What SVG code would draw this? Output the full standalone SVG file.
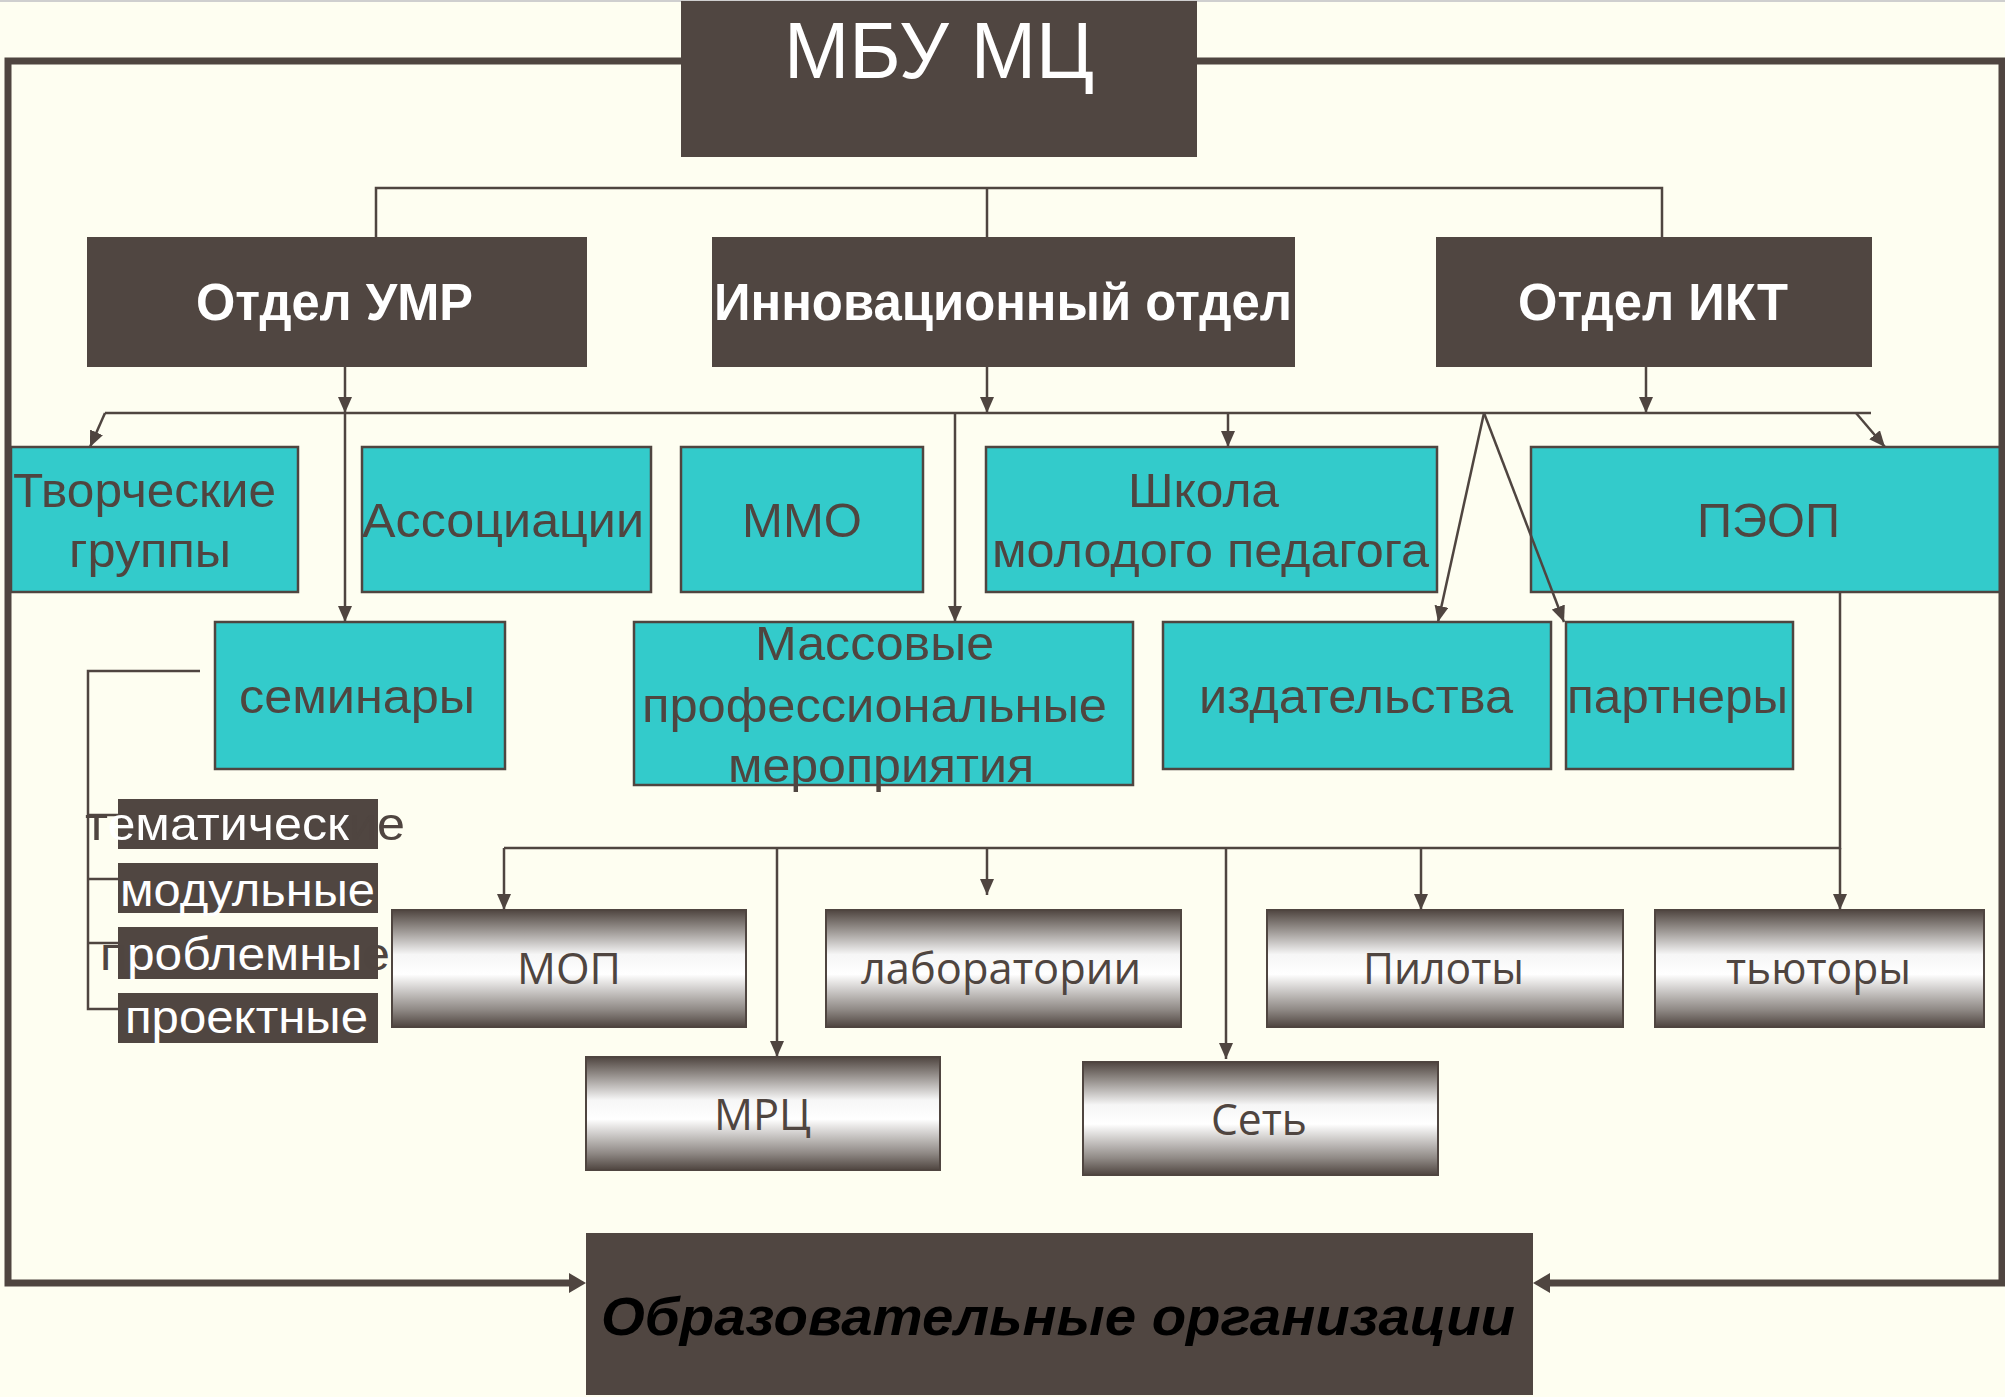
<svg xmlns="http://www.w3.org/2000/svg" width="2005" height="1397" viewBox="0 0 2005 1397">
<defs>
<style>
.dark{fill:#504641;}
.teal{fill:#33CBCB;stroke:#4F4540;stroke-width:2.5;}
.grad{fill:url(#g);stroke:#4F4540;stroke-width:2;}
.hdr{font-family:"Liberation Sans",Arial,sans-serif;font-weight:bold;font-size:51px;fill:#FFFFFF;}
.tt{font-family:"Liberation Sans",Arial,sans-serif;font-size:48px;fill:#4F4540;}
.gt{font-family:"Open Sans","Liberation Sans",sans-serif;font-size:44px;fill:#4F4540;}
.lb{font-family:"Liberation Sans",Arial,sans-serif;font-size:46px;}
.c{fill:none;stroke:#4F4540;stroke-width:2.5;}
.thick{fill:none;stroke:#4F4540;stroke-width:7;}
</style>
<linearGradient id="g" x1="0" y1="0" x2="0" y2="1">
<stop offset="0" stop-color="#4F4540"/>
<stop offset="0.15" stop-color="#908a86"/>
<stop offset="0.38" stop-color="#f6f6f6"/>
<stop offset="0.55" stop-color="#ffffff"/>
<stop offset="0.85" stop-color="#908a86"/>
<stop offset="1" stop-color="#4F4540"/>
</linearGradient>
<marker id="arr" viewBox="0 0 16 14" refX="16" refY="7" markerWidth="16" markerHeight="14" markerUnits="userSpaceOnUse" orient="auto">
<path d="M0,0 L16,7 L0,14 z" fill="#4F4540"/>
</marker>
</defs>
<rect x="0" y="0" width="2005" height="1397" fill="#FEFEF1"/>
<rect x="0" y="0" width="2005" height="2" fill="#cfcfcf"/>

<g id="mbu"><rect class="dark" x="681" y="1" width="516" height="156"/>
<text x="939" y="78" text-anchor="middle" font-family="Liberation Sans, Arial, sans-serif" font-size="80" fill="#FFFFFF" textLength="310" lengthAdjust="spacingAndGlyphs">МБУ МЦ</text></g>

<g id="umr"><rect class="dark" x="87" y="237" width="500" height="130"/>
<text class="hdr" x="196" y="320" textLength="277" lengthAdjust="spacingAndGlyphs">Отдел УМР</text></g>
<g id="innov"><rect class="dark" x="712" y="237" width="583" height="130"/>
<text class="hdr" x="714" y="320" textLength="578" lengthAdjust="spacingAndGlyphs">Инновационный отдел</text></g>
<g id="ikt"><rect class="dark" x="1436" y="237" width="436" height="130"/>
<text class="hdr" x="1518" y="320" textLength="270" lengthAdjust="spacingAndGlyphs">Отдел ИКТ</text></g>

<g id="tvorch"><rect class="teal" x="11" y="447" width="287" height="145"/>
<text class="tt" x="13" y="507" textLength="263" lengthAdjust="spacingAndGlyphs">Творческие</text>
<text class="tt" x="69" y="567" textLength="162" lengthAdjust="spacingAndGlyphs">группы</text></g>
<g id="assoc"><rect class="teal" x="362" y="447" width="289" height="145"/>
<text class="tt" x="362" y="537" textLength="282" lengthAdjust="spacingAndGlyphs">Ассоциации</text></g>
<g id="mmo"><rect class="teal" x="681" y="447" width="242" height="145"/>
<text class="tt" x="742" y="537" textLength="120" lengthAdjust="spacingAndGlyphs">ММО</text></g>
<g id="shkola"><rect class="teal" x="986" y="447" width="451" height="145"/>
<text class="tt" x="1128" y="507" textLength="151" lengthAdjust="spacingAndGlyphs">Школа</text>
<text class="tt" x="992" y="567" textLength="437" lengthAdjust="spacingAndGlyphs">молодого педагога</text></g>
<g id="peop"><rect class="teal" x="1531" y="447" width="476" height="145"/>
<text class="tt" x="1697" y="537" textLength="143" lengthAdjust="spacingAndGlyphs">ПЭОП</text></g>

<g id="seminary"><rect class="teal" x="215" y="622" width="290" height="147"/>
<text class="tt" x="239" y="713" textLength="236" lengthAdjust="spacingAndGlyphs">семинары</text></g>
<g id="massovye"><rect class="teal" x="634" y="622" width="499" height="163"/>
<text class="tt" x="755" y="660" textLength="239" lengthAdjust="spacingAndGlyphs">Массовые</text>
<text class="tt" x="642" y="722" textLength="465" lengthAdjust="spacingAndGlyphs">профессиональные</text>
<text class="tt" x="728" y="782" textLength="306" lengthAdjust="spacingAndGlyphs">мероприятия</text></g>
<g id="izdat"><rect class="teal" x="1163" y="622" width="388" height="147"/>
<text class="tt" x="1199" y="713" textLength="314" lengthAdjust="spacingAndGlyphs">издательства</text></g>
<g id="partnery"><rect class="teal" x="1566" y="622" width="227" height="147"/>
<text class="tt" x="1567" y="713" textLength="221" lengthAdjust="spacingAndGlyphs">партнеры</text></g>

<g id="connectors">
<path class="thick" d="M681,61 H8 V1283 H572"/>
<polygon points="569,1273 586,1283 569,1293" fill="#4F4540"/>
<path class="thick" d="M1197,61 H2002 V1283 H1548"/>
<polygon points="1550,1273 1533,1283 1550,1293" fill="#4F4540"/>
<path class="c" d="M376,237 V188 H1662 V237"/>
<path class="c" d="M987,188 V237"/>
<path class="c" d="M345,367 V413" marker-end="url(#arr)"/>
<path class="c" d="M345,413 V622" marker-end="url(#arr)"/>
<path class="c" d="M987,367 V413" marker-end="url(#arr)"/>
<path class="c" d="M1646,367 V413" marker-end="url(#arr)"/>
<path class="c" d="M105,413 H1871"/>
<path class="c" d="M105,413 L90,447" marker-end="url(#arr)"/>
<path class="c" d="M955,413 V622" marker-end="url(#arr)"/>
<path class="c" d="M1228,413 V447" marker-end="url(#arr)"/>
<path class="c" d="M1484,413 L1438,622" marker-end="url(#arr)"/>
<path class="c" d="M1484,413 L1564,622" marker-end="url(#arr)"/>
<path class="c" d="M1856,413 L1885,447" marker-end="url(#arr)"/>
<path class="c" d="M1840,592 V848 H504"/>
<path class="c" d="M1840,848 V910" marker-end="url(#arr)"/>
<path class="c" d="M504,848 V910" marker-end="url(#arr)"/>
<path class="c" d="M777,848 V1057" marker-end="url(#arr)"/>
<path class="c" d="M987,848 V895" marker-end="url(#arr)"/>
<path class="c" d="M1226,848 V1059" marker-end="url(#arr)"/>
<path class="c" d="M1421,848 V910" marker-end="url(#arr)"/>
<path class="c" d="M200,671 H88 V1009 H118 M88,815 H118 M88,879 H118 M88,943 H118"/>
</g>

<g id="labels">
<rect class="dark" x="118" y="799" width="260" height="50"/>
<rect class="dark" x="118" y="863" width="260" height="50"/>
<rect class="dark" x="118" y="927" width="260" height="52"/>
<rect class="dark" x="118" y="993" width="260" height="50"/>
<text class="lb" x="85" y="840" textLength="320" lengthAdjust="spacingAndGlyphs"><tspan fill="#4F4540">т</tspan><tspan fill="#FFFFFF">ематическ</tspan><tspan fill="#4F4540">ие</tspan></text>
<text class="lb" x="120" y="906" textLength="255" lengthAdjust="spacingAndGlyphs" fill="#FFFFFF">модульные</text>
<text class="lb" x="100" y="970" textLength="290" lengthAdjust="spacingAndGlyphs"><tspan fill="#4F4540">п</tspan><tspan fill="#FFFFFF">роблемны</tspan><tspan fill="#4F4540">е</tspan></text>
<text class="lb" x="125" y="1033" textLength="243" lengthAdjust="spacingAndGlyphs" fill="#FFFFFF">проектные</text>
</g>

<g id="mop"><rect class="grad" x="392" y="910" width="354" height="117"/>
<text class="gt" x="517" y="984" textLength="104" lengthAdjust="spacingAndGlyphs">МОП</text></g>
<g id="lab"><rect class="grad" x="826" y="910" width="355" height="117"/>
<text class="gt" x="861" y="984" textLength="280" lengthAdjust="spacingAndGlyphs">лаборатории</text></g>
<g id="piloty"><rect class="grad" x="1267" y="910" width="356" height="117"/>
<text class="gt" x="1363" y="984" textLength="161" lengthAdjust="spacingAndGlyphs">Пилоты</text></g>
<g id="tutors"><rect class="grad" x="1655" y="910" width="329" height="117"/>
<text class="gt" x="1726" y="984" textLength="185" lengthAdjust="spacingAndGlyphs">тьюторы</text></g>
<g id="mrc"><rect class="grad" x="586" y="1057" width="354" height="113"/>
<text class="gt" x="714" y="1130" textLength="97" lengthAdjust="spacingAndGlyphs">МРЦ</text></g>
<g id="set"><rect class="grad" x="1083" y="1062" width="355" height="113"/>
<text class="gt" x="1211" y="1135" textLength="96" lengthAdjust="spacingAndGlyphs">Сеть</text></g>

<g id="obr"><rect class="dark" x="586" y="1233" width="947" height="162"/>
<text x="601" y="1335" font-family="Liberation Sans, Arial, sans-serif" font-weight="bold" font-style="italic" font-size="54" fill="#000000" textLength="914" lengthAdjust="spacingAndGlyphs">Образовательные организации</text></g>
</svg>
